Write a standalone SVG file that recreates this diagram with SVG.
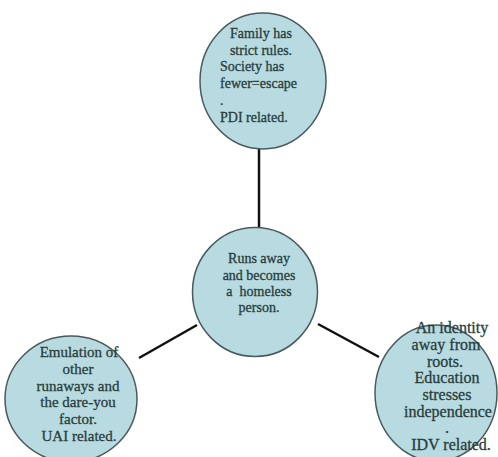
<svg xmlns="http://www.w3.org/2000/svg" width="498" height="457" viewBox="0 0 498 457">
<style>
.n{fill:#b7dbe0;stroke:#4a5a5c;stroke-width:1.5}
.t{font-family:"Liberation Serif","Times New Roman",serif;font-size:14px;fill:#2a3d3d;stroke:#2a3d3d;stroke-width:0.3;text-anchor:middle}
.l{text-anchor:start}
.m{font-size:15px}
.b{font-size:16px}
.c{stroke:#111;stroke-width:2.5;fill:none}
</style>
<rect width="498" height="457" fill="#fff"/>
<g id="connectors">
<line class="c" x1="259" y1="149" x2="259" y2="228"/>
<line class="c" x1="197" y1="325" x2="139" y2="358"/>
<line class="c" x1="318" y1="324" x2="379" y2="357"/>
</g>
<g id="node-top">
<ellipse class="n" cx="263" cy="81" rx="63" ry="68"/>
<text class="t" x="261" y="38">Family has</text>
<text class="t" x="261" y="55">strict rules.</text>
<text class="t l" x="220" y="71">Society has</text>
<text class="t l" x="220" y="88">fewer=escape</text>
<text class="t l" x="220" y="105">.</text>
<text class="t l" x="220" y="122">PDI related.</text>
</g>
<g id="node-center">
<ellipse class="n" cx="255" cy="292" rx="62.5" ry="64.5"/>
<text class="t" x="259" y="263">Runs away</text>
<text class="t" x="259" y="280">and becomes</text>
<text class="t" x="259" y="296" xml:space="preserve">a  homeless</text>
<text class="t" x="259" y="312">person.</text>
</g>
<g id="node-left">
<ellipse class="n" cx="71" cy="399" rx="66" ry="63"/>
<text class="t m" x="79" y="357">Emulation of</text>
<text class="t m" x="78" y="374">other</text>
<text class="t m" x="78" y="391">runaways and</text>
<text class="t m" x="78" y="407">the dare-you</text>
<text class="t m" x="78" y="424">factor.</text>
<text class="t m" x="79" y="441">UAI related.</text>
</g>
<g id="node-right">
<ellipse class="n" cx="436" cy="393" rx="61" ry="68"/>
<text class="t b" x="452" y="333">An identity</text>
<text class="t b" x="446" y="350">away from</text>
<text class="t b" x="445" y="367">roots.</text>
<text class="t b" x="447" y="383">Education</text>
<text class="t b" x="447" y="400">stresses</text>
<text class="t b" x="448" y="417">independence</text>
<text class="t b" x="447" y="433">.</text>
<text class="t b" x="451" y="450">IDV related.</text>
</g>
</svg>
